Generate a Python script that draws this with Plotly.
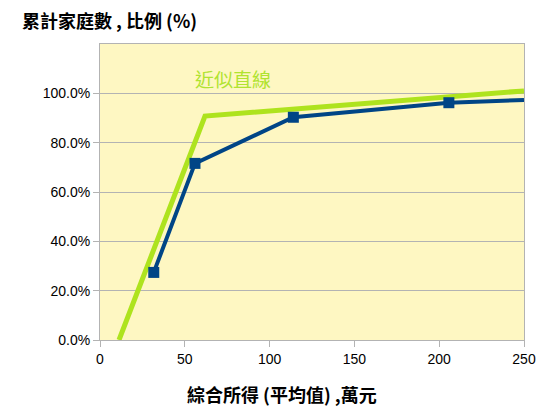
import plotly.graph_objects as go

# blue series: cumulative share of households vs average income
income = [31.7, 56, 114, 205.7, 250]
share = [0.274, 0.716, 0.903, 0.962, 0.973]
marker_sizes = [11, 11, 11, 11, 0]

# green approximation line
approx_x = [11.2, 61.9, 250]
approx_y = [0.0, 0.908, 1.01]

y_ticks = [0, 0.2, 0.4, 0.6, 0.8, 1.0]
x_ticks = [0, 50, 100, 150, 200, 250]

fig = go.Figure()

fig.add_trace(go.Scatter(
    x=approx_x, y=approx_y, mode="lines",
    line=dict(color="#aee31e", width=5), showlegend=False
))
fig.add_trace(go.Scatter(
    x=income, y=share, mode="lines+markers",
    line=dict(color="#004586", width=4),
    marker=dict(symbol="square", size=marker_sizes, color="#004586",
                opacity=1, line=dict(width=0)),
    showlegend=False
))

fig.add_annotation(
    x=0.314, y=1.0, xref="paper", yref="y", yanchor="bottom", xanchor="center",
    text="近似直線", showarrow=False, yshift=-1,
    font=dict(family="Noto Sans CJK TC", size=19, color="#b0e330")
)

# x-axis title, centred on the page rather than the plot
fig.add_annotation(
    x=0.43, y=-0.182, xref="paper", yref="paper", xanchor="center", yanchor="middle",
    text="<b>綜合所得 (平均值) ,萬元</b>", showarrow=False,
    font=dict(family="Noto Sans CJK TC", size=18, color="black")
)

fig.update_layout(
    width=560, height=420,
    margin=dict(l=92, r=44, t=36, b=88),
    paper_bgcolor="white",
    plot_bgcolor="#fef7c2",
    font=dict(family="Liberation Sans", size=14, color="black"),
    title=dict(
        text="<b>累計家庭數 , 比例 (%)</b>", x=0.025, xanchor="left", y=0.968, yanchor="middle",
        font=dict(family="Noto Sans CJK TC", size=18, color="black")
    ),
)

fig.update_xaxes(
    range=[0, 250], tickvals=x_ticks,
    showgrid=False, zeroline=False,
    showline=True, linecolor="#b3b3b3", linewidth=1, mirror=True,
    ticks="outside", tickcolor="#b3b3b3", ticklen=6,
)
fig.update_yaxes(
    range=[0, 1.2], tickvals=y_ticks, tickformat=".1%",
    showgrid=True, gridcolor="#b3b3b3", gridwidth=1, zeroline=False,
    showline=True, linecolor="#b3b3b3", linewidth=1, mirror=True,
    ticks="outside", tickcolor="#b3b3b3", ticklen=6,
)

fig.write_html("out.html")
